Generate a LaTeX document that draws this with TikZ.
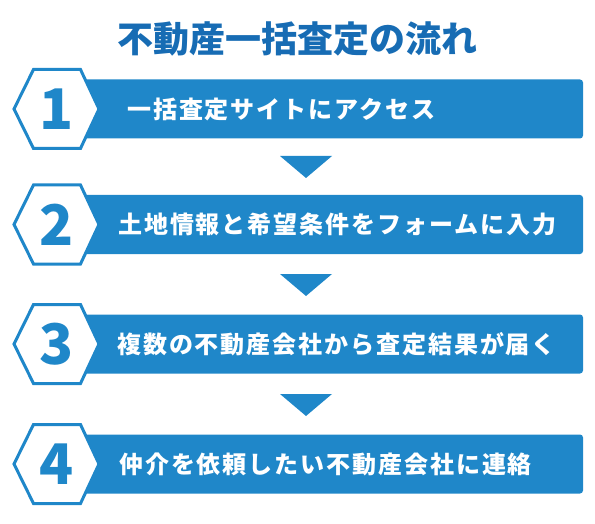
\documentclass[tikz,border=0pt]{standalone}
\usepackage{fontspec}
\newfontfamily\jp{Noto Sans CJK JP}[LetterSpace=8]
\newfontfamily\jpt{Noto Sans CJK JP}
\definecolor{barblue}{RGB}{31,135,201}
\definecolor{titleblue}{RGB}{23,108,180}
\begin{document}
\begin{tikzpicture}[x=1pt,y=-1pt,
  bar/.style={fill=barblue, rounded corners=3pt, inner sep=0pt, minimum width=523pt, minimum height=59pt},
  steplabel/.style={anchor=west, text=white, font=\jp\bfseries\fontsize{24}{24}\selectfont, inner sep=0pt},
  num/.style={text=barblue, font=\jpt\bfseries\fontsize{56}{56}\selectfont, inner sep=0pt},
  hex/.style={draw=barblue, line width=3pt, fill=white, line join=miter},
  tri/.style={fill=barblue},
  titlestyle/.style={text=titleblue, font=\jpt\bfseries\fontsize{36}{36}\selectfont, inner sep=0pt}]
\useasboundingbox (0,0) rectangle (595,524);
\node[titlestyle] (title) at (297.5,38.5) {不動産一括査定の流れ};
\foreach \y/\n/\tx/\txt in {109/1/127/一括査定サイトにアクセス,
  224.5/2/118/土地情報と希望条件をフォームに入力,
  344/3/117/複数の不動産会社から査定結果が届く,
  464/4/119/仲介を依頼したい不動産会社に連絡}{
  \node[bar] (bar\n) at (321.5,\y) {};
  \draw[hex] (14,\y) -- (33.5,\y-39.5) -- (80.5,\y-39.5) -- (99,\y) -- (80.5,\y+39.5) -- (33.5,\y+39.5) -- cycle;
  \node[num] (num\n) at (57,\y) {\n};
  \node[steplabel] (label\n) at (\tx,\y) {\txt};
}
\foreach \t in {156,274,394}{
  \fill[tri] (280,\t) -- (332,\t) -- (306,\t+22) -- cycle;
}
\end{tikzpicture}
\end{document}
